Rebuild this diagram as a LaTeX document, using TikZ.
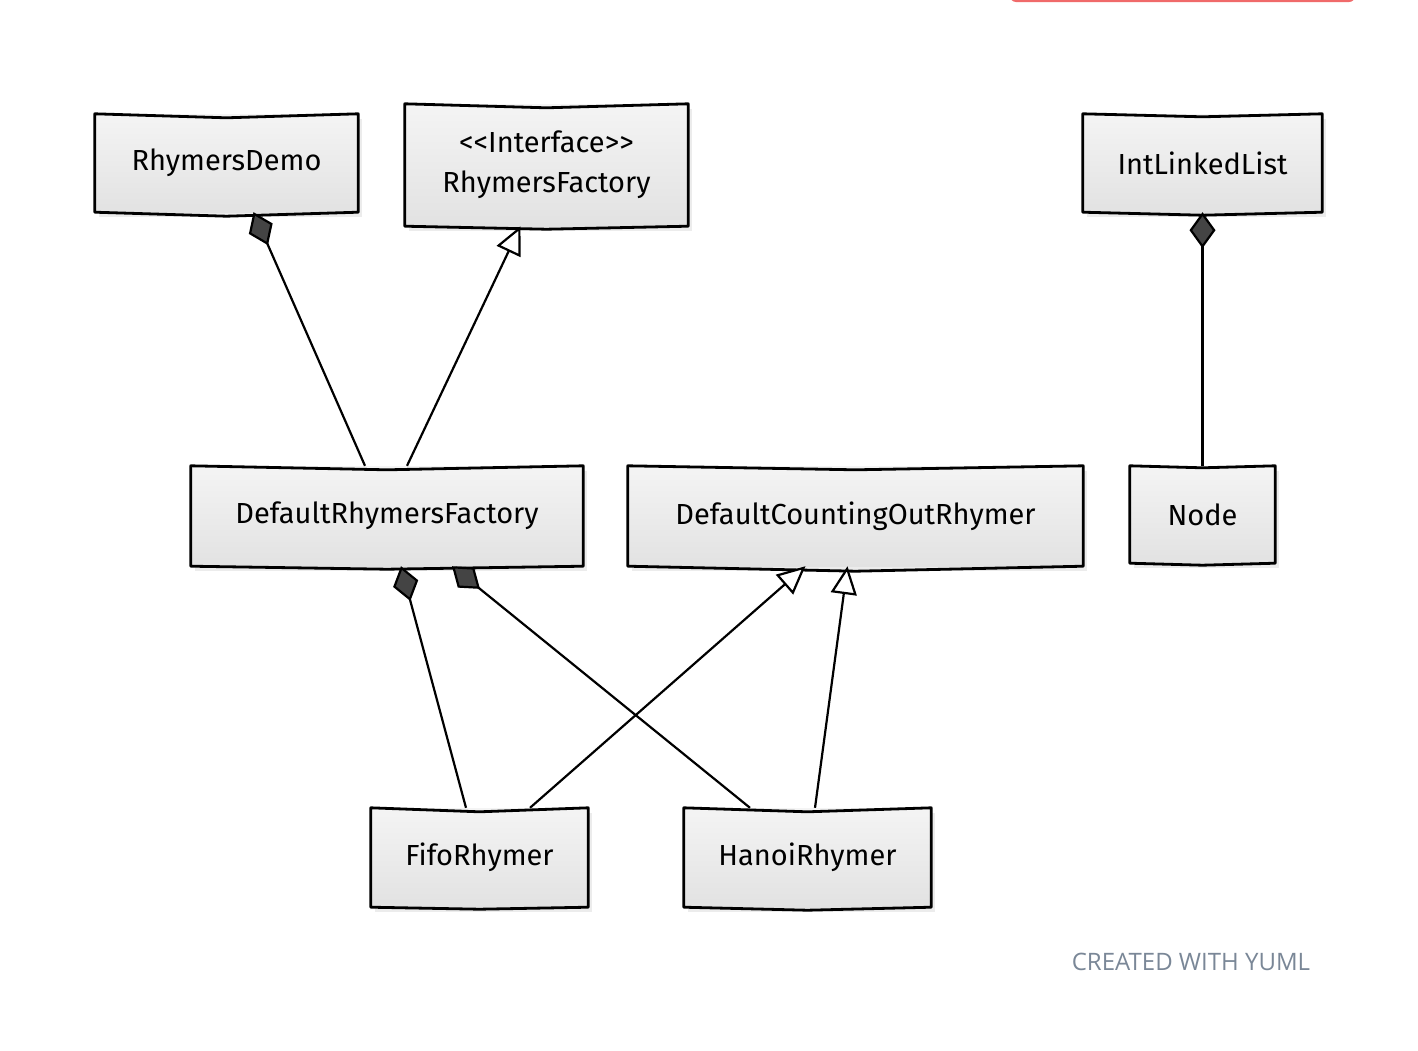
\documentclass[tikz,border=0pt]{standalone}
\usepackage{fontspec}
\setmainfont{Fira Sans}
\newfontfamily\creditfont{Open Sans}
\usetikzlibrary{arrows.meta,shadows,calc}
\definecolor{boxtop}{HTML}{F4F4F4}
\definecolor{boxbot}{HTML}{E2E2E2}
\definecolor{diam}{HTML}{444444}
\definecolor{redbar}{HTML}{F06A6A}
\definecolor{credit}{HTML}{7A8797}
\newcommand\sketchbox[3]{%
  \draw[outline] (#1.north west) -- ($(#1.north)+(0,#2)$) -- (#1.north east)
    -- (#1.south east) -- ($(#1.south)+(0,#3)$) -- (#1.south west) -- cycle;}
\begin{document}
\begin{tikzpicture}[x=1pt,y=-1pt,
  cls/.style={rectangle, inner sep=0pt, align=center,
    top color=boxtop, bottom color=boxbot,
    drop shadow={shadow xshift=4pt, shadow yshift=-5pt, opacity=0.15},
    font=\fontsize{29}{40}\selectfont},
  outline/.style={draw=black, line width=2.8pt, line join=round},
  comp/.style={draw, line width=2.2pt, {Diamond[length=36pt,width=26pt,fill=diam]}-},
  inh/.style={draw, line width=2.2pt, -{Triangle[length=28pt,width=26pt,fill=white]}}]
\fill[white] (0,0) rectangle (1418,1050);
\useasboundingbox (0,0) rectangle (1418,1050);
\fill[redbar, rounded corners=6pt] (1010,-14) rectangle (1355,2);

\node[cls, minimum width=263pt, minimum height=98pt] (demo) at (226.5,163) {RhymersDemo};
\node[cls, minimum width=283pt, minimum height=122pt] (factory) at (546.5,165) {<{}<Interface>{}>\\RhymersFactory};
\node[cls, minimum width=239pt, minimum height=98pt] (ill) at (1202.5,163) {IntLinkedList};
\node[cls, minimum width=392pt, minimum height=100pt] (drf) at (387,516) {DefaultRhymersFactory};
\node[cls, minimum width=455pt, minimum height=100pt] (dcor) at (855.5,516) {DefaultCountingOutRhymer};
\node[cls, minimum width=145pt, minimum height=97pt] (nodeN) at (1202.5,514.5) {Node};
\node[cls, minimum width=217pt, minimum height=99pt] (fifo) at (479.5,857.5) {FifoRhymer};
\node[cls, minimum width=247pt, minimum height=99pt] (hanoi) at (807.5,857.5) {HanoiRhymer};

\sketchbox{demo}{4}{4}
\sketchbox{factory}{4}{3}
\sketchbox{ill}{3}{3}
\sketchbox{drf}{4}{3}
\sketchbox{dcor}{4}{5}
\sketchbox{nodeN}{2}{2}
\sketchbox{fifo}{4}{2}
\sketchbox{hanoi}{4}{3}

\draw[comp] ($(demo.south)+(27,0)$) -- ($(drf.north)+(-22,0)$);
\draw[inh] ($(drf.north)+(20,0)$) -- ($(factory.south)+(-26,0)$);
\draw[comp] (ill.south) -- (nodeN.north);
\draw[comp] ($(drf.south)+(14,0)$) -- ($(fifo.north)+(-13.5,0)$);
\draw[comp] ($(drf.south)+(65,0)$) -- ($(hanoi.north)+(-57.5,0)$);
\draw[inh] ($(fifo.north)+(50.5,0)$) -- ($(dcor.south)+(-50,0)$);
\draw[inh] ($(hanoi.north)+(7.5,0)$) -- ($(dcor.south)+(-8,0)$);

\node[font=\creditfont\fontsize{24}{28}\selectfont, text=credit] (credit) at (1191,962) {CREATED WITH YUML};
\end{tikzpicture}
\end{document}
